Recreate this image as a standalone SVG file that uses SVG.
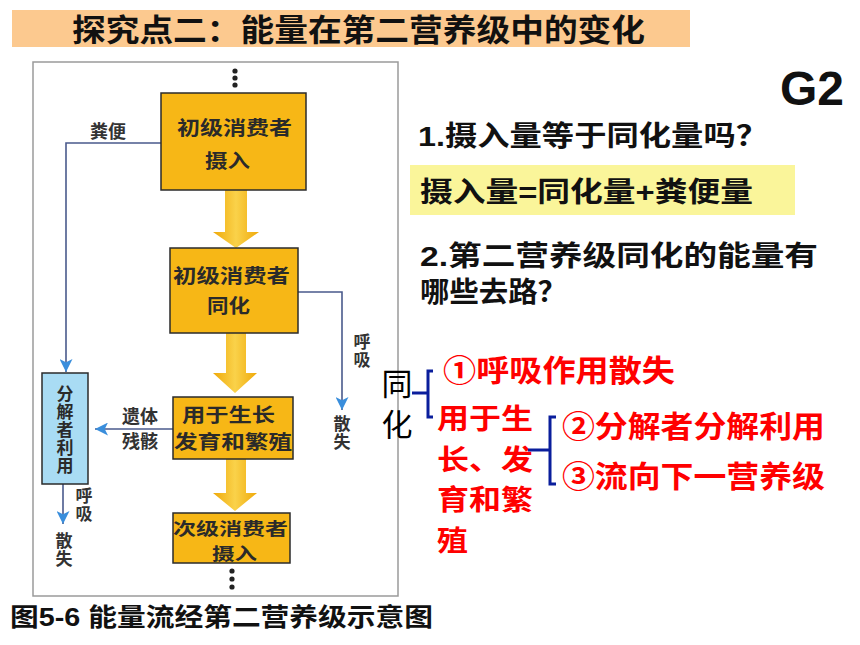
<svg xmlns="http://www.w3.org/2000/svg" width="860" height="645" viewBox="0 0 860 645">
<defs>
<style>
.cjk{font-family:"Liberation Sans","Noto Sans CJK SC",sans-serif;}
.bx{fill:#F7B716;stroke:#2b2b2b;stroke-width:1.5;}
.bt{font-family:"Noto Sans CJK SC",sans-serif;font-size:19px;font-weight:bold;fill:#2a2a2a;}
.lb{font-family:"Noto Sans CJK SC",sans-serif;font-size:18px;font-weight:bold;fill:#333;text-anchor:middle;}
.vt{font-family:"Noto Sans CJK SC",sans-serif;font-size:17px;font-weight:bold;fill:#333;writing-mode:tb;glyph-orientation-vertical:0;text-orientation:upright;letter-spacing:1px;}
.q{font-family:"Liberation Sans","Noto Sans CJK SC",sans-serif;font-size:28px;font-weight:bold;fill:#111;}
.red{font-family:"Noto Sans CJK SC",sans-serif;font-size:30px;font-weight:bold;fill:#FF0000;}
.ln{fill:none;stroke:#4A5A8C;stroke-width:1.6;}
.br{fill:none;stroke:#0A1E9C;stroke-width:3;}
.fat{fill:url(#fg);}
</style>
<linearGradient id="fg" x1="0" y1="0" x2="1" y2="0">
<stop offset="0" stop-color="#EFA90A"/>
<stop offset="0.5" stop-color="#FAD24A"/>
<stop offset="1" stop-color="#EFA90A"/>
</linearGradient>
<marker id="ah" viewBox="0 0 12 12" refX="12" refY="6" markerWidth="13" markerHeight="13" markerUnits="userSpaceOnUse" orient="auto">
<path d="M0,0 L12,6 L0,12 L3,6 z" fill="#3A8EDC"/>
</marker>
</defs>
<rect width="860" height="645" fill="#fff"/>

<g id="header">
<rect x="12" y="10" width="678" height="37" fill="#FCC98F"/>
<text x="72" y="41" class="cjk" font-size="31" font-weight="bold" fill="#111" textLength="573" lengthAdjust="spacingAndGlyphs">探究点二：能量在第二营养级中的变化</text>
</g>

<g id="g2label">
<text x="780" y="105" font-family="Liberation Sans,Arial,sans-serif" font-size="48" font-weight="bold" fill="#111">G2</text>
</g>

<g id="frame">
<rect x="33" y="62" width="365" height="534" fill="#fff" stroke="#9a9a9a" stroke-width="1.5"/>
</g>

<g id="dots-top" fill="#222">
<circle cx="235" cy="71" r="2.6"/><circle cx="235" cy="78" r="2.6"/><circle cx="235" cy="85" r="2.6"/>
</g>
<g id="dots-bottom" fill="#222">
<circle cx="232" cy="571" r="2.6"/><circle cx="232" cy="579" r="2.6"/><circle cx="232" cy="587" r="2.6"/>
</g>

<g id="connectors">
<polygon class="fat" points="225,190 247,190 247,232 259,232 236,248 213,232 225,232"/>
<polygon class="fat" points="226,333 246,333 246,373 257,373 235,393 213,373 226,373"/>
<polygon class="fat" points="226,459 246,459 246,493 257,493 235,511 213,493 226,493"/>
<polyline class="ln" points="161,143 66,143 66,372" marker-end="url(#ah)"/>
<polyline class="ln" points="298,292 342,292 342,410" marker-end="url(#ah)"/>
<line class="ln" x1="173" y1="429" x2="95" y2="429" marker-end="url(#ah)"/>
<line class="ln" x1="63" y1="484" x2="63" y2="524" marker-end="url(#ah)"/>
</g>

<g id="node-intake1">
<rect class="bx" x="161" y="93" width="145" height="97"/>
<text class="bt" x="177" y="135" textLength="115" lengthAdjust="spacingAndGlyphs">初级消费者</text>
<text class="bt" x="205" y="168" textLength="45" lengthAdjust="spacingAndGlyphs">摄入</text>
</g>

<g id="node-assim1">
<rect class="bx" x="170" y="248" width="128" height="85"/>
<text class="bt" x="173" y="283" textLength="117" lengthAdjust="spacingAndGlyphs">初级消费者</text>
<text class="bt" x="207" y="313" textLength="43" lengthAdjust="spacingAndGlyphs">同化</text>
</g>

<g id="node-growth">
<rect class="bx" x="173" y="397" width="120" height="62"/>
<text class="bt"><tspan x="182" y="422" textLength="93" lengthAdjust="spacingAndGlyphs">用于生长</tspan><tspan x="174" y="449" textLength="118" lengthAdjust="spacingAndGlyphs">发育和繁殖</tspan></text>
</g>

<g id="node-intake2">
<rect class="bx" x="173" y="513" width="117" height="50"/>
<text class="bt" style="font-size:17px"><tspan x="173" y="535" textLength="115" lengthAdjust="spacingAndGlyphs">次级消费者</tspan><tspan x="212" y="560" textLength="45" lengthAdjust="spacingAndGlyphs">摄入</tspan></text>
</g>

<g id="node-decomposer">
<rect x="42" y="373" width="46" height="111" fill="#A9DCF4" stroke="#2b2b2b" stroke-width="1.5"/>
<text class="vt" x="65" y="385" style="fill:#2a2a2a">分解者利用</text>
</g>

<g id="labels-left">
<text class="lb" x="108" y="138">粪便</text>
<text class="vt" x="362" y="333">呼吸</text>
<text class="vt" x="342" y="415">散失</text>
<text class="lb"><tspan x="140" y="423">遗体</tspan><tspan x="140" y="448">残骸</tspan></text>
<text class="vt" x="84" y="487">呼吸</text>
<text class="vt" x="64" y="532">散失</text>
</g>

<g id="caption">
<text x="10" y="626" class="cjk" font-size="25" font-weight="bold" fill="#111" textLength="423" lengthAdjust="spacingAndGlyphs">图5-6 能量流经第二营养级示意图</text>
</g>

<g id="questions">
<text class="q" x="418" y="146" textLength="350" lengthAdjust="spacingAndGlyphs">1.摄入量等于同化量吗？</text>
<rect x="410" y="165" width="385" height="50" fill="#FAF59A"/>
<text class="q" x="420" y="202" textLength="333" lengthAdjust="spacingAndGlyphs">摄入量=同化量+粪便量</text>
<text class="q"><tspan x="420" y="266" textLength="398" lengthAdjust="spacingAndGlyphs">2.第二营养级同化的能量有</tspan><tspan x="420" y="302" textLength="147" lengthAdjust="spacingAndGlyphs">哪些去路？</tspan></text>
</g>

<g id="answer">
<text font-family="Noto Sans CJK SC,sans-serif" font-size="31" fill="#000" text-anchor="middle"><tspan x="397" y="395">同</tspan><tspan x="397" y="436">化</tspan></text>
<polyline class="br" points="433,371 428,371 428,417 433,417"/>
<line class="br" x1="412" y1="393" x2="428" y2="393"/>
<text class="red" x="443" y="381" textLength="232" lengthAdjust="spacingAndGlyphs">①呼吸作用散失</text>
<text class="red" style="font-size:28px"><tspan x="437" y="429" textLength="96" lengthAdjust="spacingAndGlyphs">用于生</tspan><tspan x="437" y="470" textLength="96" lengthAdjust="spacingAndGlyphs">长、发</tspan><tspan x="437" y="510" textLength="96" lengthAdjust="spacingAndGlyphs">育和繁</tspan><tspan x="437" y="551" textLength="31" lengthAdjust="spacingAndGlyphs">殖</tspan></text>
<polyline class="br" points="556,417 550,417 550,484 556,484"/>
<line class="br" x1="528" y1="450" x2="550" y2="450"/>
<text class="red" x="562" y="437" textLength="263" lengthAdjust="spacingAndGlyphs">②分解者分解利用</text>
<text class="red" x="562" y="487" textLength="263" lengthAdjust="spacingAndGlyphs">③流向下一营养级</text>
</g>
</svg>
